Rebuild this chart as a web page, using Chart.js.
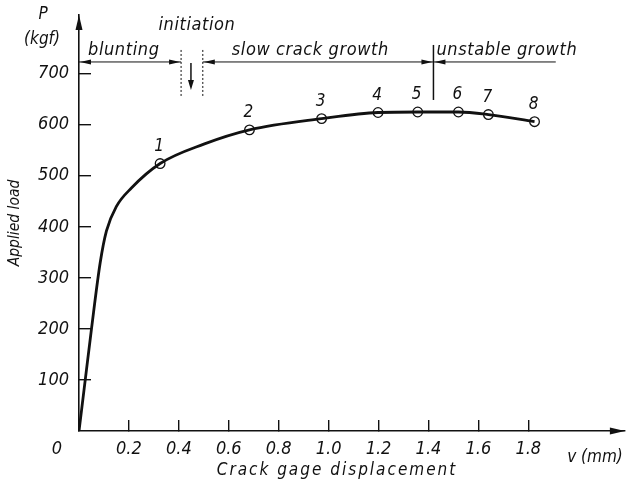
<!DOCTYPE html>
<html>
<head>
<meta charset="utf-8">
<script src="https://cdn.jsdelivr.net/npm/chart.js@4.4.0/dist/chart.umd.min.js"></script>
<style>
    body { margin: 0; background: #fff; }
    #contenedor { width: 631px; height: 492px; }
</style>
</head>
<body>
<div id="contenedor">
    <canvas id="grafico-carga" width="631" height="492"></canvas>
</div>
<script>
//Curva carga - desplazamiento
var curvaDesp = [0, 0.02, 0.05, 0.085, 0.11, 0.15, 0.21, 0.325, 0.5, 0.683, 0.972, 1.198, 1.357, 1.52, 1.64, 1.825];
var curvaCarga = [0, 80, 200, 330, 392, 440, 476, 524, 562, 590, 612, 624, 625, 625, 620, 606];

//Puntos marcados 1..8
var puntosDesp = [0.325, 0.683, 0.972, 1.198, 1.357, 1.52, 1.64, 1.825];
var puntosCarga = [524, 590, 612, 624, 625, 625, 620, 606];
var puntosNombre = ['1', '2', '3', '4', '5', '6', '7', '8'];

//Ticks de los ejes
var ticksX = [0.2, 0.4, 0.6, 0.8, 1.0, 1.2, 1.4, 1.6, 1.8];
var ticksY = [100, 200, 300, 400, 500, 600, 700];

//Etapas de la fisura (limites en mm) y nivel de la linea de etapas (kgf)
var etapasNombre = ['blunting', 'initiation', 'slow crack growth', 'unstable growth'];
var etapasLimites = [0, 0.409, 0.496, 1.42, 1.91];
var nivelEtapas = 723;

var fuente = "'DejaVu Sans Condensed', 'Liberation Sans Narrow', 'DejaVu Sans', sans-serif";

function flecha(ctx, px, py, dx, dy, largo, ancho) {
    var bx = px - dx * largo, by = py - dy * largo;
    ctx.beginPath();
    ctx.moveTo(px, py);
    ctx.lineTo(bx - dy * ancho, by + dx * ancho);
    ctx.lineTo(bx + dy * ancho, by - dx * ancho);
    ctx.closePath();
    ctx.fill();
}

function linea(ctx, x1, y1, x2, y2) {
    ctx.beginPath();
    ctx.moveTo(x1, y1);
    ctx.lineTo(x2, y2);
    ctx.stroke();
}

var anotaciones = {
    id: 'anotaciones',
    afterDraw: function (chart) {
        var ctx = chart.ctx;
        var ex = chart.scales.x, ey = chart.scales.y;
        var area = chart.chartArea;

        ctx.save();
        ctx.fillStyle = '#111';
        ctx.strokeStyle = '#111';

        //flechas de los ejes
        flecha(ctx, area.left, area.top, 0, -1, 15, 3.5);
        flecha(ctx, area.right, area.bottom, 1, 0, 15, 3.5);

        //numeros de los puntos
        var meta = chart.getDatasetMeta(1);
        ctx.font = 'italic 17px ' + fuente;
        ctx.textAlign = 'center';
        ctx.textBaseline = 'middle';
        meta.data.forEach(function (p, i) {
            ctx.fillText(puntosNombre[i], p.x - 1, p.y - 17);
        });

        //linea de etapas
        var yl = ey.getPixelForValue(nivelEtapas);
        var b = etapasLimites.map(function (v) { return ex.getPixelForValue(v); });
        ctx.lineWidth = 1;
        linea(ctx, b[0], yl, b[1], yl);
        linea(ctx, b[2], yl, b[3], yl);
        linea(ctx, b[3], yl, b[4], yl);
        flecha(ctx, b[0] + 1, yl, -1, 0, 11, 2.5);
        flecha(ctx, b[1] - 1, yl, 1, 0, 11, 2.5);
        flecha(ctx, b[2] + 1, yl, -1, 0, 11, 2.5);
        flecha(ctx, b[3] - 1, yl, 1, 0, 11, 2.5);
        flecha(ctx, b[3] + 1, yl, -1, 0, 11, 2.5);

        //iniciacion: dos lineas punteadas y flecha hacia abajo
        ctx.setLineDash([2, 2]);
        linea(ctx, b[1], yl - 12, b[1], yl + 36);
        linea(ctx, b[2], yl - 12, b[2], yl + 36);
        ctx.setLineDash([]);
        var mid = (b[1] + b[2]) / 2 - 1;
        ctx.lineWidth = 1.5;
        linea(ctx, mid, yl + 1, mid, yl + 20);
        flecha(ctx, mid, yl + 28, 0, 1, 10, 3);
        ctx.lineWidth = 1.5;
        linea(ctx, b[3], yl - 17, b[3], yl + 38);

        //textos de etapas
        ctx.font = 'italic 18px ' + fuente;
        ctx.letterSpacing = '0.6px';
        ctx.textAlign = 'left';
        ctx.fillText(etapasNombre[0], b[0] + 9, yl - 12);
        ctx.textAlign = 'center';
        ctx.fillText(etapasNombre[1], mid + 6, yl - 37);
        ctx.textAlign = 'left';
        ctx.fillText(etapasNombre[2], b[2] + 29, yl - 12);
        ctx.fillText(etapasNombre[3], b[3] + 3, yl - 12);
        ctx.letterSpacing = '0px';

        //unidades y origen
        ctx.font = 'italic 17px ' + fuente;
        ctx.textAlign = 'center';
        ctx.fillText('P', 43, 15);
        ctx.fillText('(kgf)', 42, 40);
        ctx.fillText('v (mm)', 595, 458);
        ctx.font = 'italic 18px ' + fuente;
        ctx.fillText('0', 57, 449);

        //titulos de los ejes
        ctx.font = 'italic 17px ' + fuente;
        ctx.letterSpacing = '2px';
        ctx.fillText('Crack gage displacement', 337, 471);
        ctx.letterSpacing = '0px';
        ctx.font = 'italic 15.5px ' + fuente;
        ctx.translate(15, (area.top + area.bottom) / 2);
        ctx.rotate(-Math.PI / 2);
        ctx.fillText('Applied load', 0, 0);

        ctx.restore();
    }
};

function graficoCarga() {
    var ctx = document.getElementById('grafico-carga').getContext('2d');

    var curva = curvaDesp.map(function (v, i) { return { x: v, y: curvaCarga[i] }; });
    var puntos = puntosDesp.map(function (v, i) { return { x: v, y: puntosCarga[i] }; });

    return new Chart(ctx, {
        type: 'line',
        data: {
            datasets: [{
                data: curva,
                borderColor: '#111',
                borderWidth: 2.8,
                pointRadius: 0,
                cubicInterpolationMode: 'monotone',
                fill: false
            }, {
                data: puntos,
                showLine: false,
                pointRadius: 4.8,
                pointBorderWidth: 1.3,
                pointBorderColor: '#111',
                pointBackgroundColor: '#fff'
            }]
        },
        options: {
            responsive: false,
            animation: false,
            devicePixelRatio: 1,
            layout: { padding: { left: 0, top: 15, right: 1, bottom: 0 } },
            plugins: { legend: { display: false }, tooltip: { enabled: false } },
            scales: {
                x: {
                    type: 'linear',
                    min: 0,
                    max: 2.187,
                    afterBuildTicks: function (s) {
                        s.ticks = ticksX.map(function (v) { return { value: v }; });
                    },
                    afterFit: function (s) {
                        s.height = 61;
                        s.paddingLeft = 0;
                        s.paddingRight = 0;
                    },
                    border: { display: true, color: '#111', width: 1.6 },
                    grid: { drawOnChartArea: false, tickLength: -11, color: '#111', lineWidth: 1.4 },
                    ticks: {
                        padding: 19,
                        color: '#111',
                        font: { family: fuente, size: 18, style: 'italic' },
                        callback: function (v) { return v.toFixed(1); }
                    }
                },
                y: {
                    min: 0,
                    max: 815,
                    afterBuildTicks: function (s) {
                        s.ticks = ticksY.map(function (v) { return { value: v }; });
                    },
                    afterFit: function (s) {
                        s.width = 79;
                        s.paddingTop = 0;
                        s.paddingBottom = 0;
                    },
                    border: { display: true, color: '#111', width: 1.6 },
                    grid: { drawOnChartArea: false, tickLength: -12, color: '#111', lineWidth: 1.4 },
                    ticks: {
                        padding: 22,
                        color: '#111',
                        font: { family: fuente, size: 18, style: 'italic' }
                    }
                }
            }
        },
        plugins: [anotaciones]
    });
}

graficoCarga();
</script>
</body>
</html>
